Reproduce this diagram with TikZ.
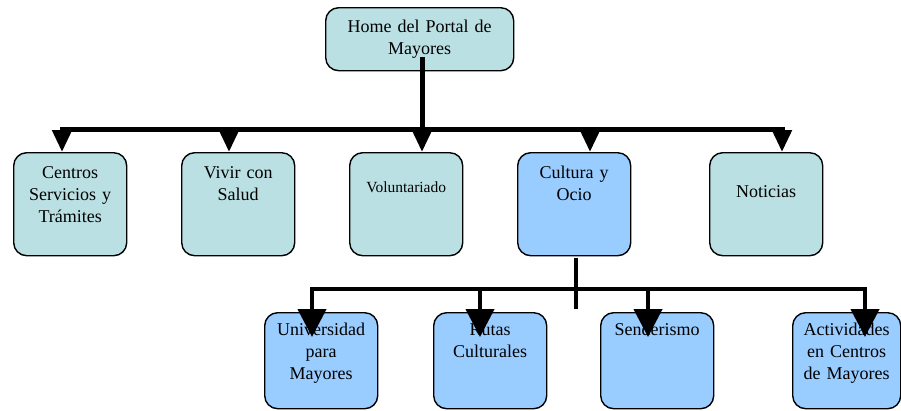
\documentclass[tikz,border=0pt]{standalone}
\usepackage{fontspec}
\setmainfont{Liberation Serif}
\usetikzlibrary{arrows.meta,positioning}
\definecolor{boxcyan}{RGB}{187,224,227}
\definecolor{boxblue}{RGB}{153,204,255}
\tikzset{
  pagebox/.style={draw,line width=1.4pt,rounded corners=13pt,fill=boxcyan,anchor=north west,
    inner xsep=3pt,inner ysep=0pt,text width=107pt,align=center,
    font=\fontsize{18}{22}\selectfont,text height=26pt,text depth=77pt},
  subbox/.style={pagebox,fill=boxblue,text height=23pt,text depth=73pt},
  link/.style={line width=5pt,line cap=rect},
  sublink/.style={line width=4.5pt,line cap=rect},
  linktip/.style={-{Triangle[width=19pt,length=22pt]}},
  subtip/.style={-{Triangle[width=28pt,length=28pt]}},
}
\begin{document}
\begin{tikzpicture}[x=1pt,y=-1pt]
    \useasboundingbox (0,0) rectangle (901,410);

    \node(home)[pagebox,text width=182pt,text height=25pt,text depth=38pt] at (325,7) {Home del Portal de\\Mayores};
    \node(centros)[pagebox] at (13,152) {Centros\\Servicios y\\Trámites};
    \node(vivir)[pagebox] at (181,152) {Vivir con\\Salud};
    \node(volun)[pagebox,font=\fontsize{15.5}{18}\selectfont,text height=40pt,text depth=63pt] at (349,152) {Voluntariado};
    \node(cultura)[pagebox,fill=boxblue] at (517,152) {Cultura y\\Ocio};
    \node(noticias)[pagebox,text height=45pt,text depth=58pt] at (709,152) {Noticias};

    \node(uni)[subbox] at (264,312) {Universidad\\para\\Mayores};
    \node(rutas)[subbox] at (433,312) {Rutas\\Culturales};
    \node(sender)[subbox] at (600,312) {Senderismo};
    \node(activ)[subbox,text width=102pt] at (792,312) {Actividades\\en Centros\\de Mayores};

    % main bar
    \coordinate(b1) at (62,129);
    \coordinate(b2) at (229,129);
    \coordinate(b3) at (422,129);
    \coordinate(b4) at (590,129);
    \coordinate(b5) at (782,129);
    \draw[link] (b1) -- (b5);
    \draw[link] ([yshift=12pt]b3 |- home.south) -- (b3);
    \draw[link,linktip] (b1) -- (b1 |- centros.north);
    \draw[link,linktip] (b2) -- (b2 |- vivir.north);
    \draw[link,linktip] (b3) -- (b3 |- volun.north);
    \draw[link,linktip] (b4) -- (b4 |- cultura.north);
    \draw[link,linktip] (b5) -- (b5 |- noticias.north);

    % sub bar
    \coordinate(c0) at (576,289);
    \coordinate(c1) at (312,289);
    \coordinate(c2) at (480,289);
    \coordinate(c3) at (648,289);
    \coordinate(c4) at (865,289);
    \draw[sublink] (c1) -- (c4);
    \draw[sublink] ([yshift=-4pt]c0 |- cultura.south) -- ([yshift=-18pt]c0);
    \draw[sublink,subtip] (c1) -- ([yshift=-25pt]c1 |- uni.north);
    \draw[sublink,subtip] (c2) -- ([yshift=-25pt]c2 |- rutas.north);
    \draw[sublink,subtip] (c3) -- ([yshift=-25pt]c3 |- sender.north);
    \draw[sublink,subtip] (c4) -- ([yshift=-25pt]c4 |- activ.north);
\end{tikzpicture}
\end{document}
